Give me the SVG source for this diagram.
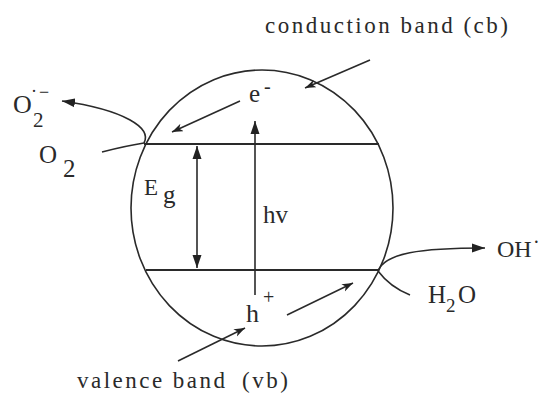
<svg xmlns="http://www.w3.org/2000/svg" width="545" height="393" viewBox="0 0 545 393">
<defs>
<marker id="ah" markerUnits="userSpaceOnUse" markerWidth="14" markerHeight="10" refX="13" refY="5" orient="auto-start-reverse">
<path d="M0,0.5 L13,5 L0,9.5 z" fill="#222"/>
</marker>
<marker id="ahs" markerUnits="userSpaceOnUse" markerWidth="12" markerHeight="9" refX="11" refY="4" orient="auto">
<path d="M0,0 L11,4 L0,8 L3,4 z" fill="#222"/>
</marker>
<style>
.ln{fill:none;stroke:#2a2a2a;stroke-width:1.6}
.band{fill:none;stroke:#2a2a2a;stroke-width:2}
.t{font-family:"Liberation Serif","Times New Roman",serif;fill:#2a2a2a}
</style>
</defs>
<g id="particle">
<ellipse class="ln" cx="262" cy="208" rx="131" ry="138"/>
</g>
<g id="cb-level"><line class="band" x1="144" y1="144" x2="379" y2="144"/></g>
<g id="vb-level"><line class="band" x1="146" y1="270" x2="378" y2="270"/></g>
<g id="connectors">
<line class="ln" x1="197" y1="146" x2="197" y2="268" marker-start="url(#ah)" marker-end="url(#ah)"/>
<line class="ln" x1="255" y1="295" x2="255" y2="121" marker-end="url(#ah)"/>
<line class="ln" x1="240" y1="101" x2="172" y2="132" marker-end="url(#ahs)"/>
<line class="ln" x1="370" y1="60" x2="305" y2="88" marker-end="url(#ahs)"/>
<line class="ln" x1="178" y1="361" x2="245" y2="328" marker-end="url(#ahs)"/>
<line class="ln" x1="287" y1="315" x2="353" y2="283" marker-end="url(#ahs)"/>
<path class="ln" d="M102,152 Q125,146 144,143"/>
<path class="ln" d="M144,143 C152,128 125,110 62,101" marker-end="url(#ah)"/>
<path class="ln" d="M410,295 Q390,287 378,271"/>
<path class="ln" d="M378,271 C385,253 420,248 485,248" marker-end="url(#ah)"/>
</g>
<g id="labels">
<text class="t" font-size="23" x="265" y="33" textLength="243" lengthAdjust="spacing">conduction band (cb)</text>
<text class="t" font-size="23" x="77" y="388" textLength="148" lengthAdjust="spacing">valence band</text>
<text class="t" font-size="23" x="242" y="388" textLength="46" lengthAdjust="spacing">(vb)</text>
<text class="t" font-size="25" x="249" y="102">e</text>
<text class="t" font-size="20" x="264" y="93">-</text>
<text class="t" font-size="23" x="144" y="195">E</text>
<text class="t" font-size="25" x="163" y="203">g</text>
<text class="t" font-size="25" x="263" y="223">hv</text>
<text class="t" font-size="26" x="246" y="322">h</text>
<text class="t" font-size="20" x="263" y="304">+</text>
<text class="t" font-size="26" x="13" y="113">O</text>
<text class="t" font-size="21" x="33" y="127">2</text>
<text class="t" font-size="18" x="31" y="97">·</text>
<text class="t" font-size="18" x="39" y="98">−</text>
<text class="t" font-size="25" x="39" y="163">O</text>
<text class="t" font-size="25" x="63" y="177">2</text>
<text class="t" font-size="24" x="497" y="257">OH</text>
<text class="t" font-size="20" x="533" y="249">·</text>
<text class="t" font-size="25" x="428" y="303">H</text>
<text class="t" font-size="19" x="446" y="312">2</text>
<text class="t" font-size="25" x="458" y="303">O</text>
</g>
</svg>
